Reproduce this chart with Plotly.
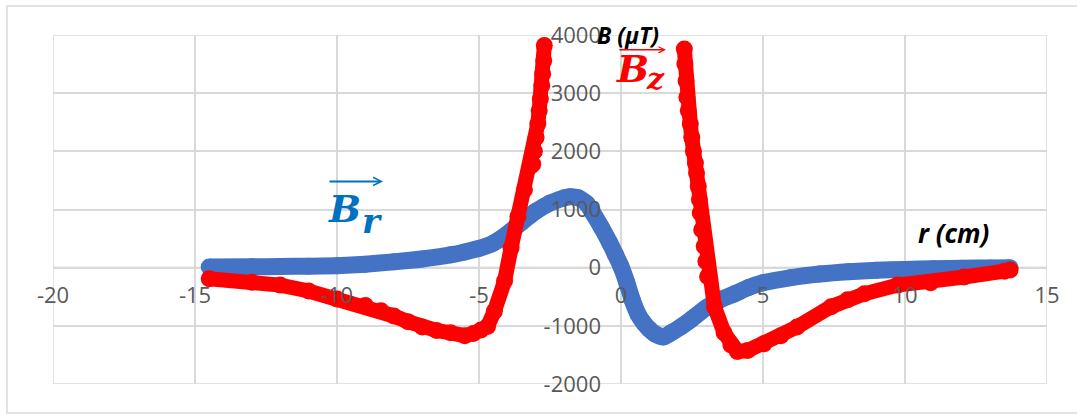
import plotly.graph_objects as go

# ---- data ----
br_r = [-14.5, -13, -12, -11, -10, -9, -8, -7, -6, -5.5, -5, -4.5, -4, -3.5, -3, -2.5, -2,
        -1.8, -1.5, -1.2, -1, -0.7, -0.4, -0.2, 0, 0.2, 0.4, 0.6, 0.8, 1.0, 1.2, 1.5, 1.8,
        2.1, 2.5, 3, 3.5, 4, 4.5, 5, 6, 7, 8, 9, 10, 11, 12, 13, 13.7]
br_b = [10, 15, 20, 25, 35, 60, 100, 150, 220, 270, 330, 420, 580, 780, 970, 1110, 1200,
        1220, 1200, 1100, 950, 700, 430, 230, 20, -250, -560, -800, -950, -1060, -1140, -1190, -1110,
        -1020, -880, -690, -550, -450, -340, -260, -170, -110, -70, -45, -30, -20, -10, -5, 0]

bz_left_r = [-14.5, -13, -12, -11, -10, -9, -8.45, -8, -7.5, -7, -6.5, -6, -5.5, -5.2, -4.93,
             -4.7, -4.46, -4.1, -3.87, -3.63, -3.4, -3.17, -3.11, -3.05, -2.99, -2.93, -2.88,
             -2.84, -2.79, -2.76, -2.72, -2.70]
bz_left_b = [-190, -250, -300, -400, -540, -650, -740, -830, -930, -1020, -1080, -1120, -1170,
             -1130, -1070, -1010, -750, -230, 340, 880, 1340, 1750, 1780, 2000, 2240, 2470, 2700,
             2900, 3130, 3330, 3560, 3820]

bz_right_r = [2.23, 2.25, 2.29, 2.32, 2.37, 2.44, 2.49, 2.55, 2.62, 2.66, 2.72, 2.76, 2.79,
              2.84, 2.93, 2.99, 3.05, 3.29, 3.63, 3.87, 4.1, 4.46, 5.03, 5.63, 6.2, 7.4, 7.98,
              8.57, 9.74, 10.9, 12.08, 13.5, 13.7]
bz_right_b = [3760, 3500, 3210, 2930, 2700, 2470, 2240, 2000, 1800, 1630, 1400, 1170, 940,
              650, 370, 110, -150, -670, -1120, -1330, -1440, -1425, -1310, -1170, -1020, -670,
              -550, -450, -300, -260, -160, -60, -40]

x_ticks = [-20, -15, -10, -5, 0, 5, 10, 15]
y_ticks = [-2000, -1000, 0, 1000, 2000, 3000, 4000]
x_range = [-20, 15]
y_range = [-2000, 4000]

BLUE = "#4472C4"
RED = "#FF0000"

fig = go.Figure()
fig.add_trace(go.Scatter(
    x=br_r, y=br_b, mode="lines+markers",
    line=dict(color=BLUE, width=17, shape="spline", smoothing=0.6),
    marker=dict(color=BLUE, size=17), hoverinfo="skip", showlegend=False))
fig.add_trace(go.Scatter(
    x=bz_left_r + [None] + bz_right_r, y=bz_left_b + [None] + bz_right_b,
    mode="lines+markers", connectgaps=False,
    line=dict(color=RED, width=15),
    marker=dict(color=RED, size=17), hoverinfo="skip", showlegend=False))

x0, x1 = x_range
y0, y1 = y_range
xpos = (0 - x0) / (x1 - x0)
ypos = (0 - y0) / (y1 - y0)

tickfont = dict(family="Open Sans, Noto Sans, sans-serif", size=22, color="#595959")

fig.update_layout(
    width=1077, height=414,
    margin=dict(l=53, r=30, t=35, b=30),
    paper_bgcolor="white", plot_bgcolor="white",
    xaxis=dict(range=x_range, tickvals=x_ticks, ticktext=[str(v) for v in x_ticks],
               showgrid=True, gridcolor="#D9D9D9", gridwidth=1.5,
               zeroline=False, showline=False, ticks="",
               anchor="free", position=ypos, ticklabelstandoff=12,
               tickfont=tickfont),
    yaxis=dict(range=y_range, tickvals=y_ticks, ticktext=[str(v) for v in y_ticks],
               showgrid=True, gridcolor="#D9D9D9", gridwidth=1.5,
               zeroline=False, showline=False, ticks="",
               anchor="free", position=xpos, ticklabelstandoff=20,
               tickfont=tickfont),
)

# zero axis lines and plot frame
fig.add_shape(type="line", xref="x", yref="y", x0=0, x1=0, y0=y0, y1=y1,
              line=dict(color="#BFBFBF", width=2), layer="below")
fig.add_shape(type="line", xref="x", yref="y", x0=x0, x1=x1, y0=0, y1=0,
              line=dict(color="#BFBFBF", width=2), layer="below")
fig.add_shape(type="rect", xref="x", yref="y", x0=x0, x1=x1, y0=y0, y1=y1,
              line=dict(color="#D9D9D9", width=1.5), layer="below")
# outer chart border
fig.add_shape(type="rect", xref="paper", yref="paper",
              x0=-46 / 994, x1=1.05, y0=-29 / 349, y1=1 + 29 / 349,
              line=dict(color="#D9D9D9", width=1.5))

fig.add_annotation(x=-0.92, y=4000, xref="x", yref="y", text="<b><i>B (µT)</i></b>",
                   showarrow=False, xanchor="left", yanchor="middle",
                   font=dict(family="Open Sans, Noto Sans, sans-serif", size=23, color="black"))
fig.add_annotation(x=10.39, y=603, xref="x", yref="y", text="<b><i>r (cm)</i></b>",
                   showarrow=False, xanchor="left", yanchor="middle",
                   font=dict(family="Open Sans, Noto Sans, sans-serif", size=26, color="black"))

sym_font = "DejaVu Serif, Liberation Serif, serif"
# B_r label
fig.add_annotation(x=-9.72, y=1017, xref="x", yref="y", text="<b><i>B</i></b>",
                   showarrow=False, font=dict(family=sym_font, size=38, color="#0070C0"))
fig.add_annotation(x=-8.77, y=800, xref="x", yref="y", text="<b><i>r</i></b>",
                   showarrow=False, font=dict(family=sym_font, size=34, color="#0070C0"))
fig.add_annotation(x=-8.38, y=1483, xref="x", yref="y", text="", showarrow=True,
                   ax=-55, ay=0, arrowhead=5, arrowsize=0.8, arrowwidth=2,
                   arrowcolor="#0070C0")
# B_z label
fig.add_annotation(x=0.39, y=3431, xref="x", yref="y", text="<b><i>B</i></b>",
                   showarrow=False, font=dict(family=sym_font, size=38, color=RED))
fig.add_annotation(x=1.23, y=3250, xref="x", yref="y", text="<b><i>z</i></b>",
                   showarrow=False, font=dict(family=sym_font, size=30, color=RED))
fig.add_annotation(x=1.58, y=3745, xref="x", yref="y", text="", showarrow=True,
                   ax=-48, ay=0, arrowhead=5, arrowsize=0.8, arrowwidth=1.5,
                   arrowcolor=RED)

fig.write_html("out.html")
